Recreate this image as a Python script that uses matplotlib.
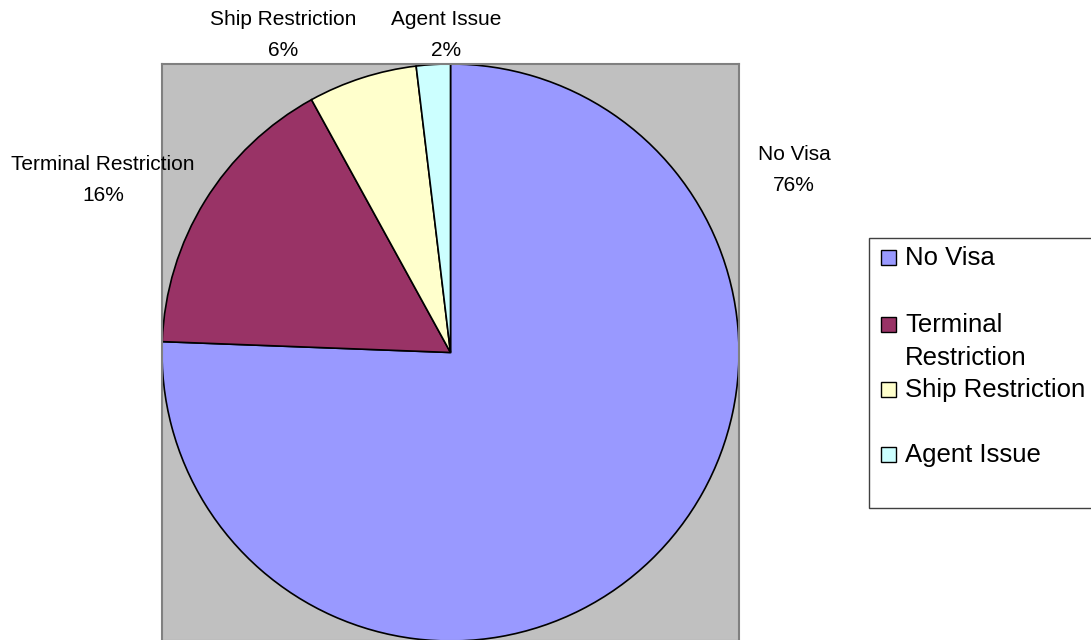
import matplotlib
matplotlib.use("Agg")
import matplotlib.pyplot as plt
from matplotlib.patches import Rectangle

# ---- data ----
categories = ["No Visa", "Terminal Restriction", "Ship Restriction", "Agent Issue"]
legend_labels = ["No Visa", "Terminal\nRestriction", "Ship Restriction", "Agent Issue"]
values = [75.6, 16.4, 6.1, 1.9]
colors = ["#9999FF", "#993366", "#FFFFCC", "#CCFFFF"]

W, H = 1091, 640
plt.rcParams['font.family'] = ['Liberation Sans', 'DejaVu Sans']
fig = plt.figure(figsize=(W / 100, H / 100), dpi=100)

def fx(px):
    return px / W

def fy(py):
    return 1 - py / H

# plot area
ax = fig.add_axes([fx(162), fy(641), fx(577), 577 / H])
wedges, _ = ax.pie(values, colors=colors, startangle=90, counterclock=False,
                   radius=1.0, frame=True,
                   wedgeprops=dict(edgecolor="black", linewidth=1.2))
ax.set_facecolor("#C0C0C0")
for s in ax.spines.values():
    s.set_visible(True)
    s.set_color("#808080")
    s.set_linewidth(1.5)
ax.set_xticks([])
ax.set_yticks([])
ax.set_xlim(-1.0, 1.0)
ax.set_ylim(-1.0, 1.0)
ax.set_aspect("auto")

# data labels (positions in pixels)
label_pos = [(794, 170), (103, 180), (283, 35), (446, 35)]
total = sum(values)
for name, v, (px, py) in zip(categories, values, label_pos):
    fig.text(fx(px), fy(py), f"{name}\n{round(v / total * 100):.0f}%",
             ha="center", va="center", fontsize=15, linespacing=1.77, color="black")

# legend (drawn manually to mimic Excel layout)
frame = Rectangle((fx(869), fy(508)), fx(1100 - 869), (508 - 238) / H,
                  transform=fig.transFigure, facecolor="white",
                  edgecolor="#404040", linewidth=1.0)
fig.patches.append(frame)
legend_tops = [246, 313, 378, 443]
for lab, col, top in zip(legend_labels, colors, legend_tops):
    sq = Rectangle((fx(881), fy(top + 19)), fx(15), 15 / H,
                   transform=fig.transFigure, facecolor=col,
                   edgecolor="black", linewidth=1.0)
    fig.patches.append(sq)
    fig.text(fx(905), fy(top), lab, ha="left", va="top", fontsize=18.5,
             linespacing=1.47, color="black")

fig.savefig("out.png", dpi=100)
